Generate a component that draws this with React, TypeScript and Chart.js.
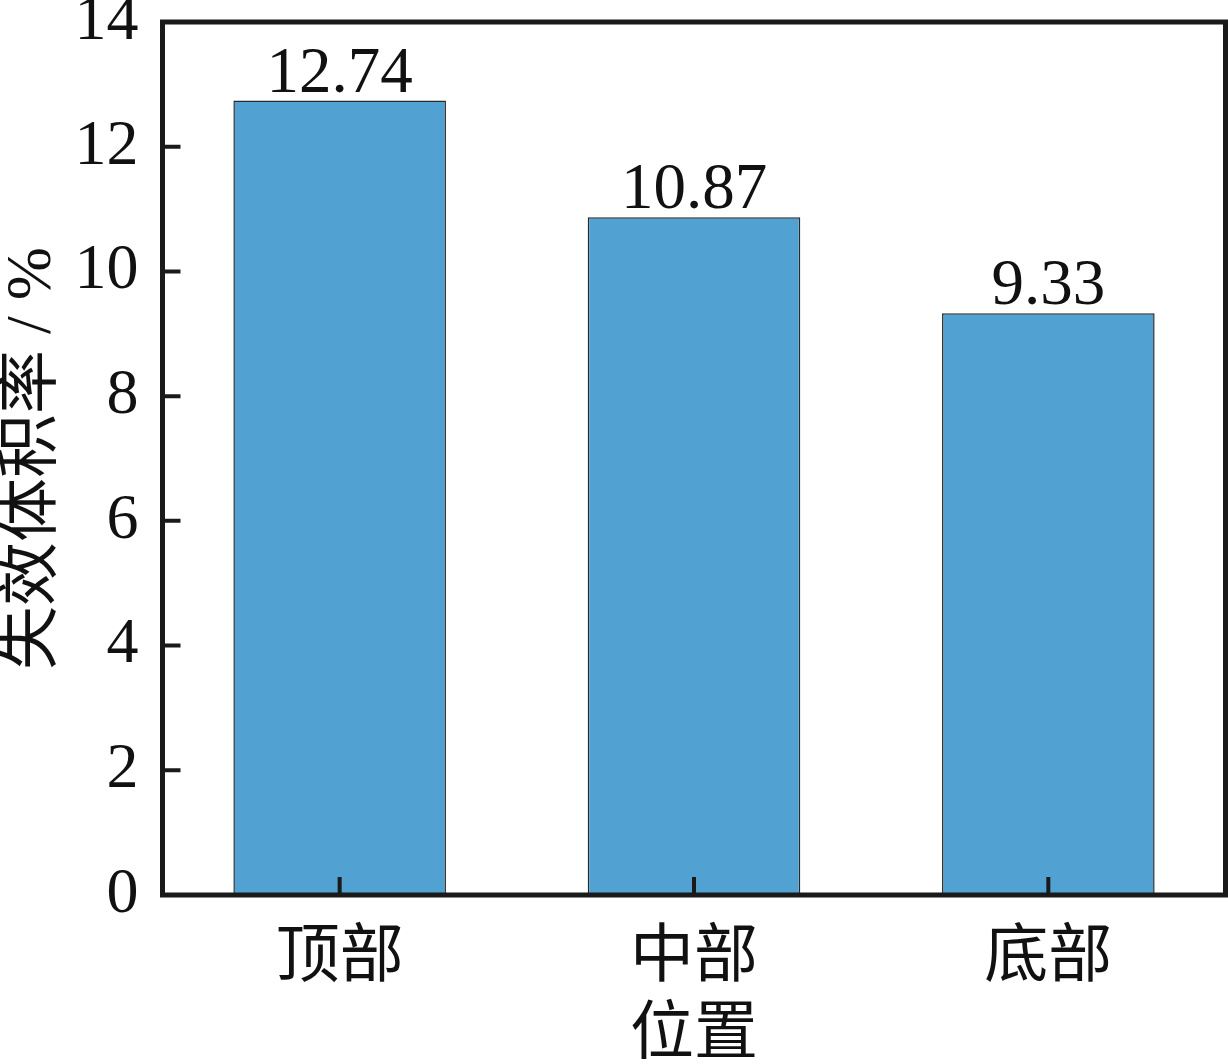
import { useEffect, useRef } from "react";
import { Chart, registerables } from "chart.js";

Chart.register(...registerables);

// data
const positions = ["顶部", "中部", "底部"];
const failureRates = [12.74, 10.87, 9.33];
const yTicks = [0, 2, 4, 6, 8, 10, 12, 14];

const SERIF = '"Liberation Serif", "Times New Roman", "Noto Sans CJK SC", serif';
const CJK = '"Noto Sans CJK SC", "Liberation Serif", serif';

// frame, inward ticks and value labels
const frameAndLabels = {
  id: "frameAndLabels",
  afterDraw(chart: any) {
    const { ctx, chartArea: a, scales } = chart;
    const x = scales.x;
    const y = scales.y;
    ctx.save();
    ctx.strokeStyle = "#1a1a1a";
    ctx.lineWidth = 4;
    ctx.beginPath();
    yTicks.forEach((v) => {
      const py = y.getPixelForValue(v);
      ctx.moveTo(a.left, py);
      ctx.lineTo(a.left + 18, py);
    });
    positions.forEach((_, i) => {
      const px = x.getPixelForValue(i);
      ctx.moveTo(px, a.bottom);
      ctx.lineTo(px, a.bottom - 18);
    });
    ctx.stroke();

    ctx.lineWidth = 5;
    ctx.strokeRect(a.left, a.top, a.right - a.left, a.bottom - a.top);

    ctx.fillStyle = "#111";
    ctx.font = `65px ${SERIF}`;
    ctx.textAlign = "center";
    ctx.textBaseline = "alphabetic";
    chart.getDatasetMeta(0).data.forEach((bar: any, i: number) => {
      ctx.fillText(failureRates[i].toFixed(2), bar.x, bar.y - 9);
    });
    ctx.restore();
  },
};

const FailureChart = () => {
  const canvasRef = useRef<HTMLCanvasElement>(null);
  const chartRef = useRef<Chart | null>(null);

  useEffect(() => {
    document.body.style.margin = "0";
    if (!canvasRef.current) return;
    if (chartRef.current) chartRef.current.destroy();

    chartRef.current = new Chart(canvasRef.current, {
      type: "bar",
      data: {
        labels: positions,
        datasets: [
          {
            data: failureRates,
            backgroundColor: "#51a2d2",
            borderColor: "#2a2a2a",
            borderWidth: 1.5,
            barPercentage: 0.6,
            categoryPercentage: 1.0,
          },
        ],
      },
      options: {
        animation: false,
        responsive: false,
        devicePixelRatio: 1,
        layout: { padding: { left: 0, right: 2.5, top: 22, bottom: 0 } },
        plugins: {
          legend: { display: false },
          tooltip: { enabled: false },
        },
        scales: {
          x: {
            offset: true,
            grid: { display: false, drawTicks: false },
            border: { display: false },
            ticks: {
              color: "#111",
              font: { family: CJK, size: 64 },
              padding: 18,
              autoSkip: false,
              maxRotation: 0,
            },
            title: {
              display: true,
              text: "位置",
              color: "#111",
              font: { family: CJK, size: 64, lineHeight: 1.1 },
              padding: 0,
            },
            afterFit: (s: any) => {
              s.height = 169;
              s.paddingLeft = 0;
              s.paddingRight = 0;
            },
          },
          y: {
            min: 0,
            max: 14,
            grid: { display: false, drawTicks: false },
            border: { display: false },
            afterBuildTicks: (s: any) => {
              s.ticks = yTicks.map((v) => ({ value: v }));
            },
            ticks: {
              color: "#111",
              font: { family: SERIF, size: 64 },
              padding: 24,
            },
            title: {
              display: true,
              text: "失效体积率 / %",
              color: "#111",
              font: { family: SERIF, size: 64, lineHeight: 1.05 },
              padding: 0,
            },
            afterFit: (s: any) => {
              s.width = 162.5;
              s.paddingTop = 0;
              s.paddingBottom = 0;
            },
          },
        },
      },
      plugins: [frameAndLabels],
    });

    return () => {
      if (chartRef.current) {
        chartRef.current.destroy();
        chartRef.current = null;
      }
    };
  }, []);

  return (
    <div style={{ width: 1228, height: 1064, background: "#fff" }}>
      <canvas ref={canvasRef} width={1228} height={1064} style={{ display: "block", width: 1228, height: 1064 }} />
    </div>
  );
};

export default function App() {
  return <FailureChart />;
}
